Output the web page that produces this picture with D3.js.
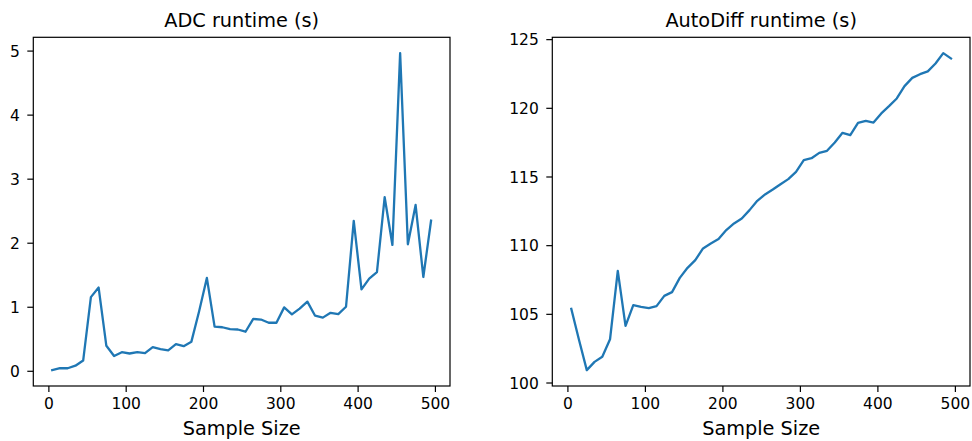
<!DOCTYPE html>
<html>
<head>
<meta charset="utf-8">
<script src="https://cdn.jsdelivr.net/npm/d3@7"></script>
<style>
  html, body { margin: 0; padding: 0; background: #fff; }
  svg { display: block; font-family: "DejaVu Sans", sans-serif; }
</style>
</head>
<body>
<svg id="chart" width="972" height="441"></svg>
<script>
// ---- data ----
const sampleSizes = [5,15,25,35,45,55,65,75,85,95,105,115,125,135,145,155,165,175,185,195,
  205,215,225,235,245,255,265,275,285,295,305,315,325,335,345,355,365,375,385,395,
  405,415,425,435,445,455,465,475,485,495];
const adcRuntime = [0.01,0.04,0.04,0.08,0.16,1.15,1.30,0.39,0.23,0.29,
  0.27,0.29,0.275,0.37,0.34,0.32,0.415,0.385,0.455,0.93,
  1.45,0.69,0.68,0.65,0.645,0.61,0.81,0.80,0.75,0.75,
  0.99,0.88,0.97,1.08,0.86,0.83,0.905,0.885,1.00,2.34,
  1.27,1.44,1.54,2.71,1.965,4.96,1.975,2.59,1.465,2.345];
const autodiffRuntime = [105.36,103.1,100.9,101.5,101.87,103.15,108.13,104.13,105.63,105.5,
  105.41,105.56,106.31,106.58,107.62,108.35,108.91,109.76,110.12,110.44,
  111.1,111.58,111.94,112.55,113.23,113.69,114.05,114.44,114.81,115.34,
  116.19,116.33,116.72,116.87,117.48,118.18,118.01,118.91,119.05,118.93,
  119.59,120.12,120.68,121.58,122.18,122.45,122.65,123.23,123.98,123.59];
const xTicks = [0,100,200,300,400,500];
const adcYTicks = [0,1,2,3,4,5];
const autodiffYTicks = [100,105,110,115,120,125];
const titles = ["ADC runtime (s)", "AutoDiff runtime (s)"];
const xLabel = "Sample Size";

// ---- drawing ----
const svg = d3.select("#chart");
const lineColor = "#1f77b4";

function padExtent(vals) {
  const [lo, hi] = d3.extent(vals);
  const m = (hi - lo) * 0.05;
  return [lo - m, hi + m];
}

function panel(left, right, ys, yTicks, title) {
  const top = 37.3, bottom = 386;
  const x = d3.scaleLinear().domain(padExtent(sampleSizes)).range([left, right]);
  const y = d3.scaleLinear().domain(padExtent(ys)).range([bottom, top]);
  const g = svg.append("g");

  const xa = g.append("g").attr("transform", `translate(0,${bottom})`)
    .call(d3.axisBottom(x).tickValues(xTicks).tickSize(6).tickPadding(6).tickFormat(d3.format("d")));
  const ya = g.append("g").attr("transform", `translate(${left},0)`)
    .call(d3.axisLeft(y).tickValues(yTicks).tickSize(6).tickPadding(7.5).tickFormat(d3.format("d")));
  [xa, ya].forEach(a => {
    a.select(".domain").remove();
    a.selectAll("line").attr("stroke", "#000").attr("stroke-width", 1.2);
    a.selectAll("text").attr("fill", "#000").style("font-size", "15.5px")
      .style("font-family", "'DejaVu Sans', sans-serif");
  });
  xa.selectAll("text").attr("dy", "0.71em");
  ya.selectAll("text").attr("dy", "0.36em");

  const line = d3.line().x((d, i) => x(sampleSizes[i])).y(d => y(d));
  g.append("path").datum(ys).attr("d", line)
    .attr("fill", "none").attr("stroke", lineColor).attr("stroke-width", 2.3)
    .attr("stroke-linejoin", "round").attr("stroke-linecap", "square");

  g.append("rect").attr("x", left).attr("y", top)
    .attr("width", right - left).attr("height", bottom - top)
    .attr("fill", "none").attr("stroke", "#000").attr("stroke-width", 1.2);

  g.append("text").attr("x", (left + right) / 2).attr("y", 27)
    .attr("text-anchor", "middle").style("font-size", "19.3px").attr("fill", "#000")
    .text(title);
  g.append("text").attr("x", (left + right) / 2).attr("y", 435)
    .attr("text-anchor", "middle").style("font-size", "19.3px").attr("fill", "#000")
    .text(xLabel);
}

panel(33.3, 450, adcRuntime, adcYTicks, titles[0]);
panel(552.3, 970, autodiffRuntime, autodiffYTicks, titles[1]);
</script>
</body>
</html>
